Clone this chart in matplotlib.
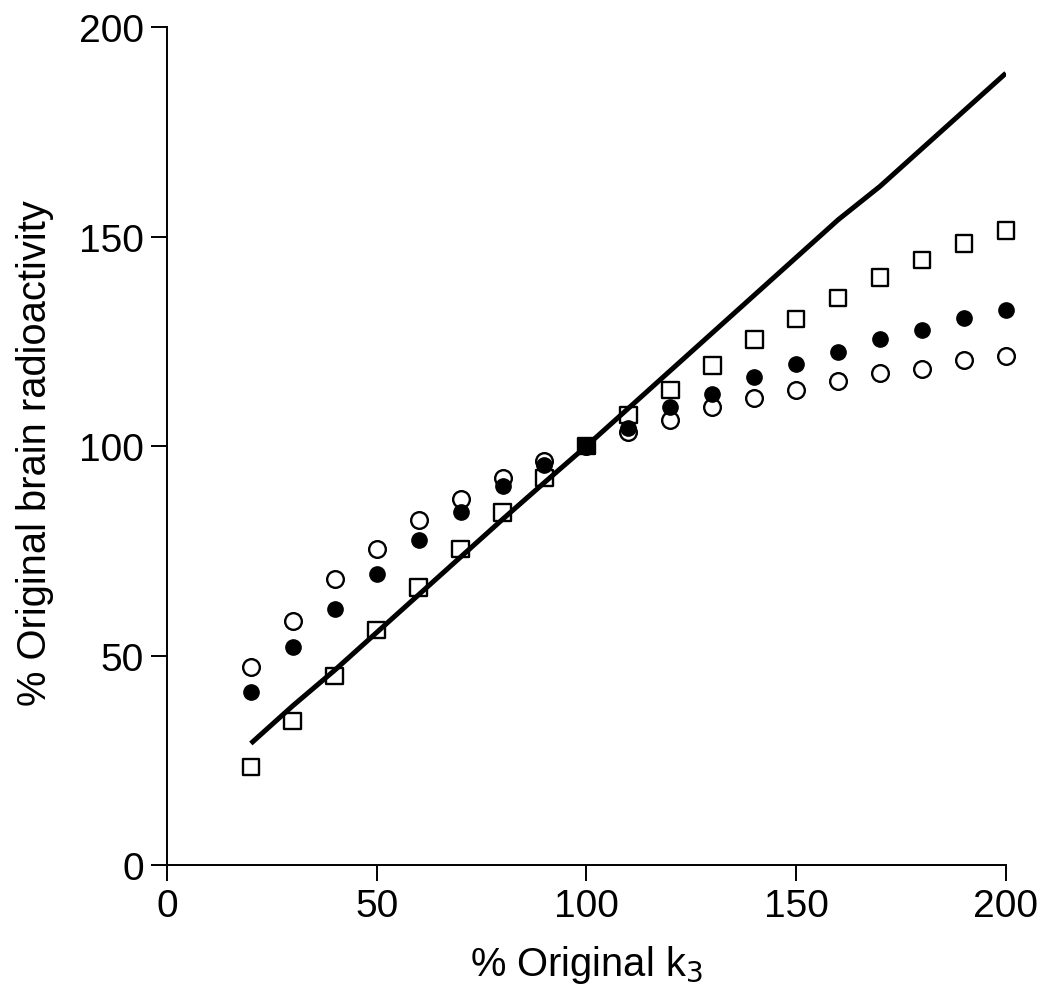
import matplotlib
matplotlib.use("Agg")
import matplotlib.pyplot as plt
import numpy as np

plt.rcParams['font.family'] = ['Liberation Sans', 'DejaVu Sans']

k3 = [20, 30, 40, 50, 60, 70, 80, 90, 100, 110, 120, 130, 140, 150, 160, 170, 180, 190, 200]
open_circles = [47.3, 58.2, 68.3, 75.4, 82.3, 87.4, 92.4, 96.4, 100, 103.3, 106.2, 109.3, 111.5, 113.4, 115.5, 117.4, 118.4, 120.5, 121.5]
filled_circles = [41.3, 52.0, 61.1, 69.5, 77.6, 84.2, 90.5, 95.5, 100, 104.3, 109.3, 112.4, 116.5, 119.6, 122.4, 125.5, 127.7, 130.5, 132.5]
squares = [23.4, 34.4, 45.1, 56.1, 66.3, 75.4, 84.2, 92.4, 100, 107.4, 113.4, 119.3, 125.5, 130.3, 135.3, 140.3, 144.4, 148.4, 151.5]
line_vals = [29, 38, 46.5, 55.5, 64.5, 73.5, 82.5, 91.3, 100, 109, 118, 127, 136, 145, 154, 162, 171, 180, 189]

fig = plt.figure(figsize=(10.5, 10.03), dpi=100)
ax = fig.add_axes([0.159, 0.1366, 0.799, 0.8354])

ax.plot(k3, line_vals, color='black', lw=3.6, solid_capstyle='butt', zorder=2)

ms = 12
ax.plot(k3, open_circles, 'o', ms=ms, mfc='none', mec='black', mew=1.7, zorder=3, clip_on=False)
ax.plot(k3, filled_circles, 'o', ms=ms - 1, mfc='black', mec='black', mew=1.0, zorder=3, clip_on=False)
sq_face = ['black' if x == 100 else 'none' for x in k3]
ax.scatter(k3, squares, marker='s', s=ms ** 2, facecolors=sq_face, edgecolors='black', linewidths=1.7, zorder=4, clip_on=False)

ax.set_xlim(0, 200)
ax.set_ylim(0, 200)
ax.set_xticks([0, 50, 100, 150, 200])
ax.set_yticks([0, 50, 100, 150, 200])
for s in ['top', 'right']:
    ax.spines[s].set_visible(False)
for s in ['left', 'bottom']:
    ax.spines[s].set_linewidth(1.4)
ax.tick_params(direction='out', length=11.5, width=1.4, labelsize=28, pad=5)
ax.set_xlabel('% Original k$_3$', fontsize=28.7, labelpad=14)
ax.set_ylabel('% Original brain radioactivity', fontsize=28.7)
ax.yaxis.set_label_coords(-0.135, 0.493)

fig.savefig('out.png', dpi=100)
